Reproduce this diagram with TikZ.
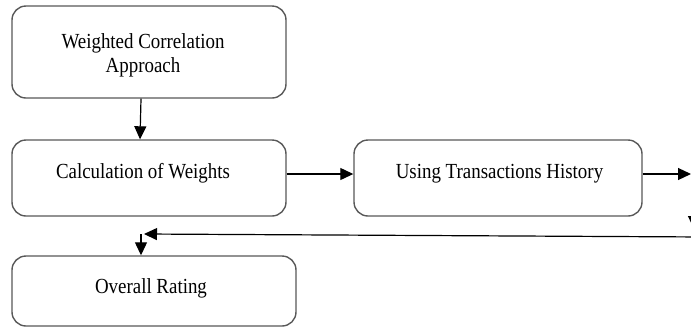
\documentclass[tikz,border=0pt]{standalone}
\usepackage{fontspec}
\setmainfont{Liberation Serif}[FakeStretch=0.88]
\usetikzlibrary{arrows.meta,calc}
\begin{document}
\begin{tikzpicture}[x=1pt,y=-1pt,
  boxnode/.style={draw=black!65, line width=1.4pt, rounded corners=14pt, inner sep=0pt},
  txt/.style={anchor=base, align=center, inner sep=0pt, font=\fontsize{21.5}{24}\selectfont},
  conn/.style={line width=1.2pt, -{Triangle[length=13pt,width=12pt]}}]
\clip (0,0) rectangle (691,330);
\fill[white] (0,0) rectangle (691,330);
\node[boxnode, minimum width=274pt, minimum height=92pt] (b1) at (149,52) {};
\node[boxnode, minimum width=274pt, minimum height=76pt] (b2) at (149,178) {};
\node[boxnode, minimum width=288pt, minimum height=76pt] (b3) at (498,178) {};
\node[boxnode, minimum width=284pt, minimum height=70pt] (b4) at (154,291) {};
\node[txt] (t1) at (143,72) {Weighted Correlation\\Approach};
\node[txt] (t2) at (143,178) {Calculation of Weights};
\node[txt] (t3) at (499.5,178) {Using Transactions History};
\node[txt] (t4) at (151,293.5) {Overall Rating};
\coordinate (rout) at (691,174);
\coordinate (rtop) at (694,200);
\coordinate (rbot) at (694,229);
\coordinate (rin) at (705,237);
\coordinate (turn) at (141,234);
\draw[conn] ([xshift=-8pt]b1.south) -- ([xshift=-9pt]b2.north);
\draw[conn] ([yshift=4pt]b2.east) -- ([yshift=4pt]b3.west);
\draw[conn] ([yshift=4pt]b3.east) -- (rout);
\draw[conn] (rtop) -- (rbot);
\draw[conn] (rin) -- ([xshift=3pt]turn);
\draw[conn] (turn) -- (turn |- b4.north);
\end{tikzpicture}
\end{document}
